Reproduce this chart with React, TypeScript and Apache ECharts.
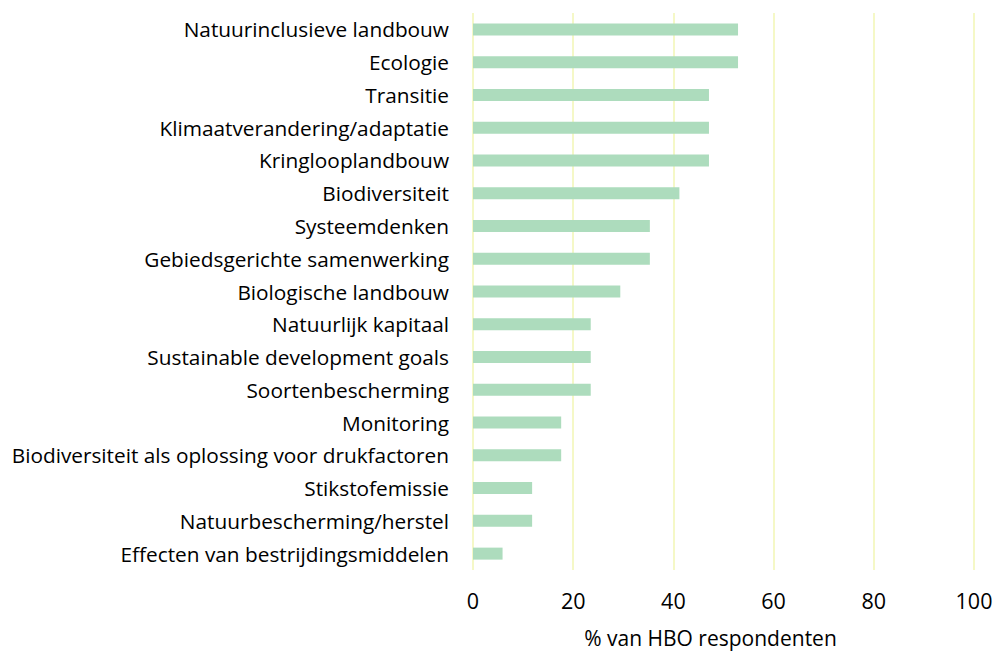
import React, { useEffect, useRef } from "react";
import * as echarts from "echarts";

const categories = [
  "Natuurinclusieve landbouw",
  "Ecologie",
  "Transitie",
  "Klimaatverandering/adaptatie",
  "Kringlooplandbouw",
  "Biodiversiteit",
  "Systeemdenken",
  "Gebiedsgerichte samenwerking",
  "Biologische landbouw",
  "Natuurlijk kapitaal",
  "Sustainable development goals",
  "Soortenbescherming",
  "Monitoring",
  "Biodiversiteit als oplossing voor drukfactoren",
  "Stikstofemissie",
  "Natuurbescherming/herstel",
  "Effecten van bestrijdingsmiddelen",
];

const values = [52.9, 52.9, 47.1, 47.1, 47.1, 41.2, 35.3, 35.3, 29.4, 23.5, 23.5, 23.5, 17.6, 17.6, 11.8, 11.8, 5.9];

const xTicks = [0, 20, 40, 60, 80, 100];
const xTitle = "% van HBO respondenten";

export default function App() {
  const ref = useRef<HTMLDivElement>(null);
  useEffect(() => {
    if (!ref.current) return;
    const chart = echarts.init(ref.current, undefined, { renderer: "svg" });
    const font = "'Open Sans', sans-serif";
    chart.setOption({
      animation: false,
      backgroundColor: "#ffffff",
      grid: { left: 473, right: 21, top: 13, height: 557, containLabel: false, outerBoundsMode: "none" },
      xAxis: {
        type: "value",
        min: xTicks[0],
        max: xTicks[xTicks.length - 1],
        interval: 20,
        name: xTitle,
        nameLocation: "middle",
        nameGap: 57,
        nameTextStyle: { fontSize: 21, color: "#000", fontFamily: font, padding: [0, 26, 0, 0] },
        axisLine: { show: false },
        axisTick: { show: false },
        axisLabel: { fontSize: 21.5, color: "#000", fontFamily: font, margin: 19 },
        splitLine: { show: true, lineStyle: { color: "#f2f6b4", width: 1.5 } },
      },
      yAxis: {
        type: "category",
        inverse: true,
        data: categories,
        axisLine: { show: false },
        axisTick: { show: false },
        axisLabel: { fontSize: 20.8, color: "#000", fontFamily: font, margin: 24 },
        splitLine: { show: false },
      },
      series: [
        {
          type: "bar",
          data: values,
          barWidth: 12,
          itemStyle: { color: "#addcbd" },
        },
      ],
    });
    return () => chart.dispose();
  }, []);
  return <div ref={ref} style={{ width: 995, height: 653, position: "absolute", left: 0, top: 0 }} />;
}
